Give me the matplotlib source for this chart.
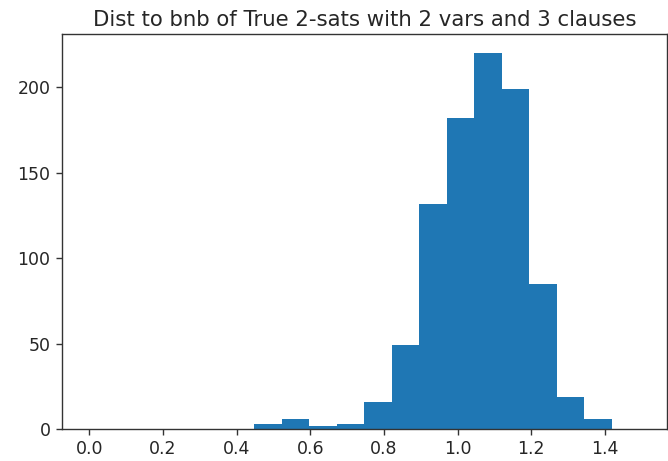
import numpy as np
import matplotlib
matplotlib.use("Agg")
import matplotlib.pyplot as plt

# histogram of distances: 20 equal bins between the min and max distance
dist_min = 0.0
dist_max = 1.494
n_bins = 20
counts = [0, 0, 0, 0, 0, 0, 3, 6, 2, 3, 16, 49, 132, 182, 220, 199, 85, 19, 6, 0]

edges = np.linspace(dist_min, dist_max, n_bins + 1)
centers = (edges[:-1] + edges[1:]) / 2

fig = plt.figure(figsize=(6.68, 4.61), dpi=100)
ax = fig.add_axes([0.0924, 0.0688, 0.9061, 0.857])

ax.hist(centers, bins=edges, weights=counts, color="#1f77b4")

ax.set_title("Dist to bnb of True 2-sats with 2 vars and 3 clauses",
             fontsize=15.3, color="#262626", pad=6)
ax.set_yticks([0, 50, 100, 150, 200])
ax.set_xticks([0.0, 0.2, 0.4, 0.6, 0.8, 1.0, 1.2, 1.4])
ax.tick_params(labelsize=12.5, length=4.5, width=1.0, labelcolor="#262626",
               color="#333333")
for s in ax.spines.values():
    s.set_linewidth(1.0)
    s.set_color("#333333")

fig.savefig("out.png", dpi=100)
